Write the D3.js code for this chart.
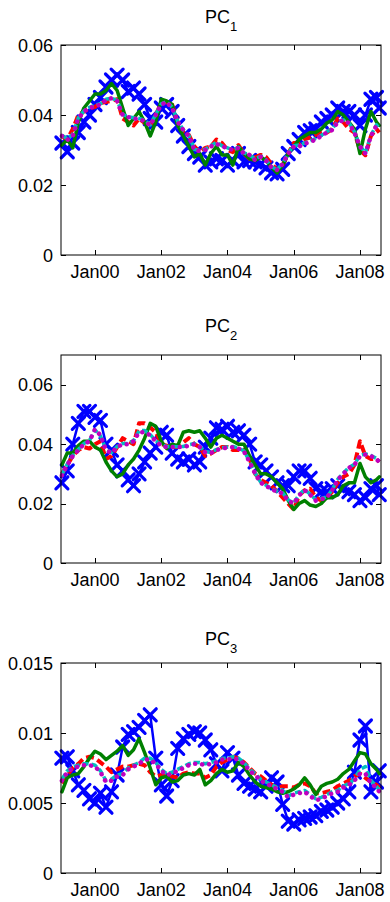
<!DOCTYPE html>
<html>
<head>
<meta charset="utf-8">
<script src="https://cdn.jsdelivr.net/npm/d3@7"></script>
<style>
  html, body { margin: 0; padding: 0; background: #fff; }
  svg { display: block; font-family: "Liberation Sans", Arial, sans-serif; }
</style>
</head>
<body>
<div id="chart"></div>
<script>
// sample dates (every two months, Jan 1999 .. Aug 2008)
let dates = [
  '1999-01-01','1999-03-01','1999-05-01','1999-07-01','1999-09-01','1999-11-01',
  '2000-01-01','2000-03-01','2000-05-01','2000-07-01','2000-09-01','2000-11-01',
  '2001-01-01','2001-03-01','2001-05-01','2001-07-01','2001-09-01','2001-11-01',
  '2002-01-01','2002-03-01','2002-05-01','2002-07-01','2002-09-01','2002-11-01',
  '2003-01-01','2003-03-01','2003-05-01','2003-07-01','2003-09-01','2003-11-01',
  '2004-01-01','2004-03-01','2004-05-01','2004-07-01','2004-09-01','2004-11-01',
  '2005-01-01','2005-03-01','2005-05-01','2005-07-01','2005-09-01','2005-11-01',
  '2006-01-01','2006-03-01','2006-05-01','2006-07-01','2006-09-01','2006-11-01',
  '2007-01-01','2007-03-01','2007-05-01','2007-07-01','2007-09-01','2007-11-01',
  '2008-01-01','2008-03-01','2008-05-01','2008-07-01','2008-08-01'
];

let xTickDates = ['2000-01-01', '2002-01-01', '2004-01-01', '2006-01-01', '2008-01-01'];
let xTickLabels = ['Jan00', 'Jan02', 'Jan04', 'Jan06', 'Jan08'];

let titles = ['1', '2', '3'];
let yMax = [0.06, 0.07, 0.015];
let yTicks1 = [0, 0.02, 0.04, 0.06];
let yTicks2 = [0, 0.02, 0.04, 0.06];
let yTicks3 = [0, 0.005, 0.01, 0.015];
let yTickLabels1 = ['0', '0.02', '0.04', '0.06'];
let yTickLabels2 = ['0', '0.02', '0.04', '0.06'];
let yTickLabels3 = ['0', '0.005', '0.01', '0.015'];

// ---- PC1 ----
let pc1Blue = [
  0.0320, 0.0295, 0.0320, 0.0350, 0.0380, 0.0400,
  0.0430, 0.0450, 0.0480, 0.0500, 0.0514, 0.0500,
  0.0467, 0.0477, 0.0460, 0.0430, 0.0390, 0.0380,
  0.0420, 0.0430, 0.0410, 0.0370, 0.0340, 0.0310,
  0.0290, 0.0280, 0.0257, 0.0266, 0.0275, 0.0270,
  0.0257, 0.0270, 0.0290, 0.0266, 0.0270, 0.0266,
  0.0260, 0.0249, 0.0235, 0.0232, 0.0245, 0.0290,
  0.0310, 0.0330, 0.0350, 0.0355, 0.0360, 0.0380,
  0.0390, 0.0400, 0.0420, 0.0410, 0.0410, 0.0400,
  0.0370, 0.0400, 0.0445, 0.0450, 0.0420
];
let pc1Red = [
  0.0340, 0.0330, 0.0360, 0.0400, 0.0410, 0.0420,
  0.0423, 0.0434, 0.0437, 0.0440, 0.0445, 0.0390,
  0.0380, 0.0370, 0.0390, 0.0377, 0.0370, 0.0400,
  0.0437, 0.0437, 0.0430, 0.0380, 0.0350, 0.0343,
  0.0310, 0.0294, 0.0306, 0.0310, 0.0330, 0.0320,
  0.0300, 0.0294, 0.0314, 0.0290, 0.0275, 0.0280,
  0.0286, 0.0280, 0.0260, 0.0243, 0.0257, 0.0290,
  0.0320, 0.0320, 0.0330, 0.0336, 0.0343, 0.0350,
  0.0350, 0.0360, 0.0390, 0.0380, 0.0360, 0.0350,
  0.0300, 0.0285, 0.0340, 0.0360, 0.0350
];
let pc1Green = [
  0.0314, 0.0330, 0.0306, 0.0380, 0.0420, 0.0440,
  0.0460, 0.0460, 0.0470, 0.0490, 0.0470, 0.0420,
  0.0370, 0.0390, 0.0410, 0.0380, 0.0340, 0.0380,
  0.0445, 0.0440, 0.0430, 0.0370, 0.0340, 0.0310,
  0.0280, 0.0290, 0.0257, 0.0290, 0.0310, 0.0286,
  0.0286, 0.0257, 0.0310, 0.0290, 0.0275, 0.0270,
  0.0280, 0.0270, 0.0250, 0.0234, 0.0257, 0.0290,
  0.0310, 0.0330, 0.0340, 0.0350, 0.0350, 0.0360,
  0.0377, 0.0386, 0.0410, 0.0400, 0.0380, 0.0360,
  0.0290, 0.0360, 0.0410, 0.0380, 0.0370
];
let pc1Cyan = [
  0.0342, 0.0332, 0.0345, 0.0392, 0.0412, 0.0422,
  0.0428, 0.0432, 0.0445, 0.0448, 0.0442, 0.0402,
  0.0395, 0.0392, 0.0390, 0.0385, 0.0372, 0.0402,
  0.0432, 0.0438, 0.0422, 0.0382, 0.0358, 0.0342,
  0.0302, 0.0298, 0.0302, 0.0312, 0.0322, 0.0312,
  0.0306, 0.0300, 0.0308, 0.0292, 0.0285, 0.0275,
  0.0282, 0.0272, 0.0252, 0.0244, 0.0262, 0.0292,
  0.0312, 0.0314, 0.0320, 0.0326, 0.0333, 0.0342,
  0.0352, 0.0360, 0.0382, 0.0386, 0.0378, 0.0352,
  0.0312, 0.0292, 0.0342, 0.0372, 0.0362
];
let pc1Magenta = [
  0.0340, 0.0329, 0.0340, 0.0390, 0.0410, 0.0420,
  0.0425, 0.0430, 0.0443, 0.0448, 0.0440, 0.0400,
  0.0394, 0.0390, 0.0388, 0.0383, 0.0370, 0.0400,
  0.0430, 0.0437, 0.0420, 0.0380, 0.0357, 0.0340,
  0.0300, 0.0297, 0.0300, 0.0310, 0.0318, 0.0310,
  0.0306, 0.0300, 0.0306, 0.0290, 0.0286, 0.0271,
  0.0280, 0.0270, 0.0250, 0.0243, 0.0260, 0.0290,
  0.0310, 0.0310, 0.0318, 0.0323, 0.0330, 0.0340,
  0.0350, 0.0357, 0.0380, 0.0385, 0.0377, 0.0350,
  0.0310, 0.0290, 0.0340, 0.0370, 0.0360
];

// ---- PC2 ----
let pc2Blue = [
  0.0270, 0.0310, 0.0400, 0.0470, 0.0510, 0.0510,
  0.0490, 0.0480, 0.0400, 0.0380, 0.0330, 0.0310,
  0.0280, 0.0260, 0.0300, 0.0340, 0.0370, 0.0390,
  0.0440, 0.0430, 0.0370, 0.0350, 0.0340, 0.0350,
  0.0330, 0.0340, 0.0390, 0.0420, 0.0455, 0.0450,
  0.0460, 0.0440, 0.0445, 0.0430, 0.0400, 0.0340,
  0.0330, 0.0310, 0.0290, 0.0270, 0.0260, 0.0260,
  0.0290, 0.0310, 0.0310, 0.0285, 0.0250, 0.0240,
  0.0240, 0.0250, 0.0260, 0.0250, 0.0240, 0.0230,
  0.0210, 0.0220, 0.0250, 0.0260, 0.0230
];
let pc2Red = [
  0.0300, 0.0330, 0.0360, 0.0380, 0.0390, 0.0385,
  0.0400, 0.0410, 0.0350, 0.0360, 0.0390, 0.0420,
  0.0410, 0.0400, 0.0470, 0.0470, 0.0456, 0.0440,
  0.0400, 0.0395, 0.0390, 0.0390, 0.0406, 0.0420,
  0.0400, 0.0390, 0.0360, 0.0368, 0.0380, 0.0390,
  0.0390, 0.0380, 0.0380, 0.0380, 0.0350, 0.0300,
  0.0280, 0.0270, 0.0260, 0.0240, 0.0220, 0.0200,
  0.0180, 0.0228, 0.0245, 0.0250, 0.0220, 0.0210,
  0.0220, 0.0240, 0.0270, 0.0290, 0.0300, 0.0330,
  0.0410, 0.0360, 0.0350, 0.0350, 0.0340
];
let pc2Green = [
  0.0330, 0.0370, 0.0370, 0.0395, 0.0410, 0.0410,
  0.0390, 0.0380, 0.0340, 0.0310, 0.0290, 0.0300,
  0.0330, 0.0350, 0.0380, 0.0420, 0.0470, 0.0460,
  0.0410, 0.0385, 0.0400, 0.0395, 0.0440, 0.0445,
  0.0440, 0.0445, 0.0420, 0.0390, 0.0420, 0.0430,
  0.0420, 0.0410, 0.0400, 0.0400, 0.0360, 0.0330,
  0.0300, 0.0300, 0.0290, 0.0270, 0.0250, 0.0210,
  0.0180, 0.0200, 0.0210, 0.0195, 0.0190, 0.0200,
  0.0220, 0.0220, 0.0230, 0.0260, 0.0270, 0.0270,
  0.0335, 0.0290, 0.0270, 0.0280, 0.0290
];
let pc2Cyan = [
  0.0298, 0.0333, 0.0362, 0.0382, 0.0402, 0.0412,
  0.0448, 0.0428, 0.0382, 0.0372, 0.0392, 0.0402,
  0.0402, 0.0412, 0.0445, 0.0446, 0.0432, 0.0412,
  0.0398, 0.0392, 0.0392, 0.0391, 0.0392, 0.0398,
  0.0402, 0.0392, 0.0375, 0.0372, 0.0382, 0.0388,
  0.0390, 0.0392, 0.0387, 0.0377, 0.0342, 0.0302,
  0.0272, 0.0262, 0.0250, 0.0242, 0.0236, 0.0212,
  0.0202, 0.0230, 0.0247, 0.0232, 0.0213, 0.0217,
  0.0222, 0.0247, 0.0282, 0.0302, 0.0322, 0.0332,
  0.0362, 0.0367, 0.0362, 0.0352, 0.0342
];
let pc2Magenta = [
  0.0295, 0.0330, 0.0360, 0.0380, 0.0400, 0.0410,
  0.0450, 0.0430, 0.0380, 0.0370, 0.0390, 0.0400,
  0.0400, 0.0410, 0.0440, 0.0440, 0.0430, 0.0410,
  0.0395, 0.0390, 0.0390, 0.0390, 0.0390, 0.0395,
  0.0400, 0.0390, 0.0372, 0.0370, 0.0380, 0.0385,
  0.0388, 0.0390, 0.0385, 0.0375, 0.0340, 0.0300,
  0.0270, 0.0260, 0.0248, 0.0240, 0.0234, 0.0210,
  0.0200, 0.0228, 0.0245, 0.0230, 0.0210, 0.0215,
  0.0220, 0.0245, 0.0280, 0.0300, 0.0320, 0.0330,
  0.0360, 0.0365, 0.0360, 0.0350, 0.0340
];

// ---- PC3 ----
let pc3Blue = [
  0.0082, 0.0083, 0.0073, 0.0063, 0.0059, 0.0053,
  0.0050, 0.0057, 0.0047, 0.0058, 0.0070, 0.0090,
  0.0099, 0.0101, 0.0104, 0.0109, 0.0113, 0.0082,
  0.0063, 0.0055, 0.0066, 0.0089, 0.0096, 0.0099,
  0.0101, 0.0100, 0.0095, 0.0088, 0.0078, 0.0073,
  0.0086, 0.0082, 0.0070, 0.0064, 0.0062, 0.0060,
  0.0058, 0.0062, 0.0068, 0.0065, 0.0049, 0.0037,
  0.0035, 0.0038, 0.0039, 0.0040, 0.0041, 0.0044,
  0.0045, 0.0047, 0.0050, 0.0053, 0.0058, 0.0072,
  0.0095, 0.0105, 0.0058, 0.0065, 0.0073
];
let pc3Red = [
  0.0064, 0.0070, 0.0075, 0.0078, 0.0082, 0.0083,
  0.0082, 0.0079, 0.0076, 0.0072, 0.0074, 0.0076,
  0.0076, 0.0077, 0.0078, 0.0077, 0.0072, 0.0069,
  0.0070, 0.0069, 0.0069, 0.0068, 0.0071, 0.0072,
  0.0071, 0.0071, 0.0068, 0.0070, 0.0076, 0.0079,
  0.0081, 0.0083, 0.0082, 0.0079, 0.0075, 0.0071,
  0.0069, 0.0066, 0.0063, 0.0061, 0.0062, 0.0062,
  0.0061, 0.0063, 0.0064, 0.0062, 0.0057, 0.0057,
  0.0058, 0.0059, 0.0062, 0.0064, 0.0066, 0.0069,
  0.0071, 0.0068, 0.0065, 0.0063, 0.0061
];
let pc3Green = [
  0.0058, 0.0068, 0.0070, 0.0071, 0.0076, 0.0082,
  0.0087, 0.0085, 0.0081, 0.0084, 0.0087, 0.0091,
  0.0084, 0.0088, 0.0096, 0.0086, 0.0075, 0.0063,
  0.0068, 0.0069, 0.0065, 0.0066, 0.0070, 0.0071,
  0.0070, 0.0074, 0.0063, 0.0066, 0.0071, 0.0074,
  0.0072, 0.0073, 0.0079, 0.0076, 0.0070, 0.0065,
  0.0062, 0.0061, 0.0060, 0.0058, 0.0057, 0.0058,
  0.0060, 0.0063, 0.0068, 0.0063, 0.0056, 0.0062,
  0.0064, 0.0065, 0.0067, 0.0071, 0.0074, 0.0080,
  0.0086, 0.0085, 0.0078, 0.0074, 0.0071
];
let pc3Cyan = [
  0.0067, 0.0073, 0.0076, 0.0077, 0.0078, 0.0078,
  0.0077, 0.0073, 0.0066, 0.0067, 0.0070, 0.0071,
  0.0075, 0.0077, 0.0079, 0.0082, 0.0082, 0.0079,
  0.0074, 0.0071, 0.0072, 0.0074, 0.0076, 0.0078,
  0.0079, 0.0079, 0.0078, 0.0079, 0.0080, 0.0082,
  0.0082, 0.0083, 0.0082, 0.0079, 0.0074, 0.0071,
  0.0067, 0.0065, 0.0063, 0.0061, 0.0059, 0.0055,
  0.0057, 0.0058, 0.0059, 0.0056, 0.0053, 0.0054,
  0.0056, 0.0058, 0.0059, 0.0062, 0.0064, 0.0067,
  0.0074, 0.0076, 0.0066, 0.0062, 0.0059
];
let pc3Magenta = [
  0.0066, 0.0072, 0.0075, 0.0076, 0.0077, 0.0077,
  0.0076, 0.0072, 0.0065, 0.0066, 0.0069, 0.0070,
  0.0074, 0.0076, 0.0078, 0.0081, 0.0081, 0.0078,
  0.0073, 0.0070, 0.0071, 0.0073, 0.0075, 0.0077,
  0.0078, 0.0078, 0.0077, 0.0078, 0.0079, 0.0081,
  0.0081, 0.0082, 0.0081, 0.0078, 0.0073, 0.0070,
  0.0066, 0.0064, 0.0062, 0.0060, 0.0058, 0.0054,
  0.0056, 0.0057, 0.0058, 0.0055, 0.0052, 0.0053,
  0.0055, 0.0057, 0.0058, 0.0061, 0.0063, 0.0066,
  0.0071, 0.0071, 0.0064, 0.0061, 0.0058
];

let panels = [
  { title: titles[0], max: yMax[0], ticks: yTicks1, tickLabels: yTickLabels1,
    series: [pc1Blue, pc1Red, pc1Green, pc1Cyan, pc1Magenta] },
  { title: titles[1], max: yMax[1], ticks: yTicks2, tickLabels: yTickLabels2,
    series: [pc2Blue, pc2Red, pc2Green, pc2Cyan, pc2Magenta] },
  { title: titles[2], max: yMax[2], ticks: yTicks3, tickLabels: yTickLabels3,
    series: [pc3Blue, pc3Red, pc3Green, pc3Cyan, pc3Magenta] }
];

// line styles, same order as panel.series
let styles = [
  { color: '#0000ff', width: 2.5, dash: null, markers: true },
  { color: '#ff0000', width: 4, dash: '8,4', cap: 'butt' },
  { color: '#008000', width: 3.5, dash: null },
  { color: '#00bfbf', width: 3.5, dash: '6,3', cap: 'butt' },
  { color: '#bf00bf', width: 4.5, dash: '0.1,7', cap: 'round' }
];

// layout of the three axes boxes
let left = 61, right = 381;
let boxes = [
  { top: 45, bottom: 255, titleY: 23 },
  { top: 355, bottom: 563, titleY: 332 },
  { top: 663, bottom: 873, titleY: 645 }
];
let fontSize = 18, tickLen = 5, mk = 6;

let parse = d3.timeParse('%Y-%m-%d');
let dateVals = dates.map(parse);

let svg = d3.select('#chart').append('svg')
  .attr('width', 390)
  .attr('height', 902);

let xScale = d3.scaleTime()
  .domain([parse('1998-12-22'), parse('2008-08-20')])
  .range([left, right]);

panels.forEach(function(p, i) {
  let box = boxes[i];
  let g = svg.append('g');

  let yScale = d3.scaleLinear()
    .domain([0, p.max])
    .range([box.bottom, box.top]);

  // series, blue x-marked line first so the others sit on top
  p.series.forEach(function(values, k) {
    let st = styles[k];
    let pts = values.map((v, j) => ({ t: dateVals[j], v: v }));
    let line = d3.line()
      .x(d => xScale(d.t))
      .y(d => yScale(d.v));

    g.append('path')
      .datum(pts)
      .attr('d', line)
      .attr('fill', 'none')
      .attr('stroke', st.color)
      .attr('stroke-width', st.width)
      .attr('stroke-linejoin', 'round')
      .attr('stroke-linecap', st.cap || 'round')
      .attr('stroke-dasharray', st.dash);

    if (st.markers) {
      g.selectAll('.mk' + i)
        .data(pts)
        .enter().append('path')
          .attr('class', 'mk' + i)
          .attr('transform', d => 'translate(' + xScale(d.t) + ',' + yScale(d.v) + ')')
          .attr('d', 'M' + (-mk) + ',' + (-mk) + 'L' + mk + ',' + mk +
                     'M' + (-mk) + ',' + mk + 'L' + mk + ',' + (-mk))
          .attr('stroke', st.color)
          .attr('stroke-width', 3.2)
          .attr('stroke-linecap', 'round')
          .attr('fill', 'none');
    }
  });

  // box
  g.append('rect')
    .attr('x', left)
    .attr('y', box.top)
    .attr('width', right - left)
    .attr('height', box.bottom - box.top)
    .attr('fill', 'none')
    .attr('stroke', '#000')
    .attr('stroke-width', 1);

  // inward ticks on all four sides
  let xt = xTickDates.map(parse);
  xt.forEach(function(t) {
    let px = Math.round(xScale(t)) + 0.5;
    g.append('line').attr('x1', px).attr('x2', px)
      .attr('y1', box.bottom).attr('y2', box.bottom - tickLen)
      .attr('stroke', '#000');
    g.append('line').attr('x1', px).attr('x2', px)
      .attr('y1', box.top).attr('y2', box.top + tickLen)
      .attr('stroke', '#000');
  });
  p.ticks.forEach(function(v) {
    let py = Math.round(yScale(v)) + 0.5;
    g.append('line').attr('x1', left).attr('x2', left + tickLen)
      .attr('y1', py).attr('y2', py).attr('stroke', '#000');
    g.append('line').attr('x1', right).attr('x2', right - tickLen)
      .attr('y1', py).attr('y2', py).attr('stroke', '#000');
  });

  // tick labels
  g.selectAll('.xl' + i)
    .data(xt)
    .enter().append('text')
      .attr('class', 'xl' + i)
      .attr('x', d => xScale(d))
      .attr('y', box.bottom + 23)
      .attr('text-anchor', 'middle')
      .attr('font-size', fontSize)
      .text((d, j) => xTickLabels[j]);

  g.selectAll('.yl' + i)
    .data(p.ticks)
    .enter().append('text')
      .attr('class', 'yl' + i)
      .attr('x', left - 8)
      .attr('y', d => yScale(d) + 6.5)
      .attr('text-anchor', 'end')
      .attr('font-size', fontSize)
      .text((d, j) => p.tickLabels[j]);

  // title PC with subscript
  let title = g.append('text')
    .attr('x', (left + right) / 2)
    .attr('y', box.titleY)
    .attr('text-anchor', 'middle')
    .attr('font-size', fontSize);
  title.append('tspan').text('PC');
  title.append('tspan')
    .attr('dy', 8)
    .attr('font-size', 13)
    .text(p.title);
});
</script>
</body>
</html>
